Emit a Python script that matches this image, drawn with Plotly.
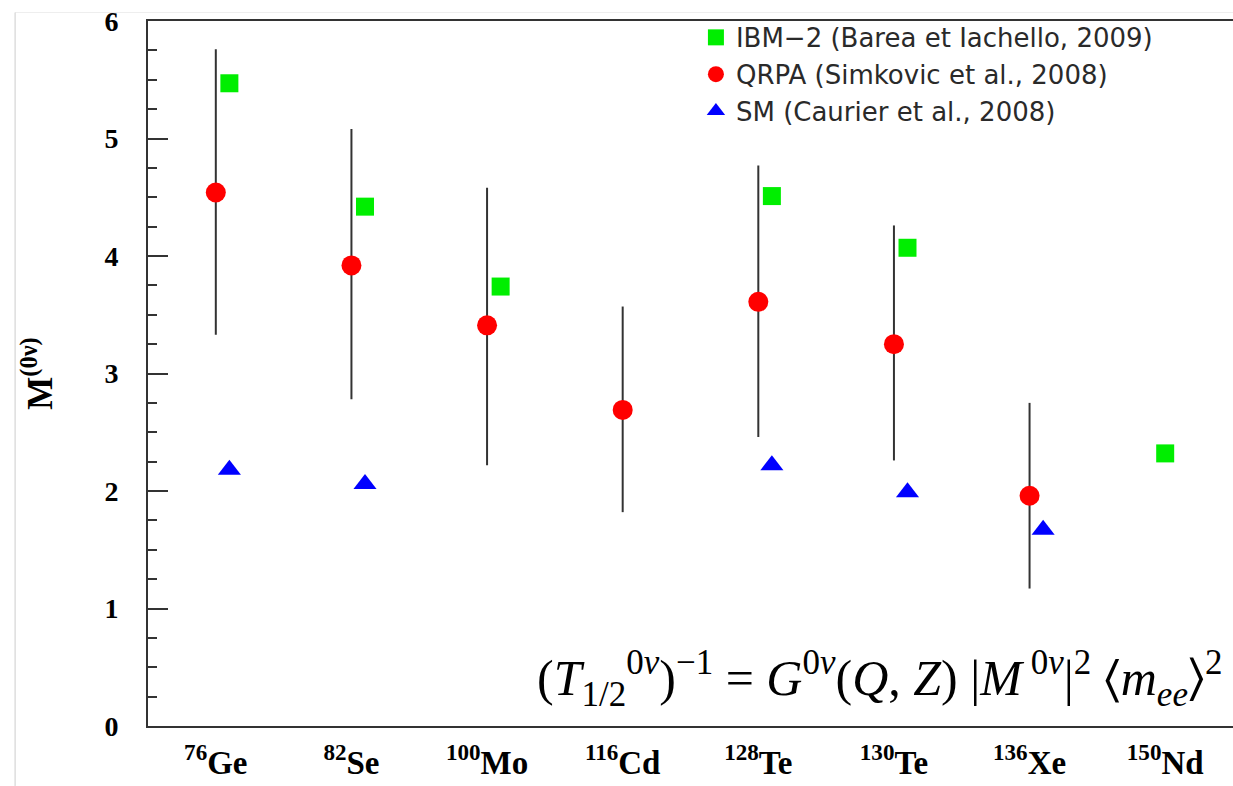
import plotly.graph_objects as go

# ---- data ----
isotopes = ["<sup>76</sup>Ge", "<sup>82</sup>Se", "<sup>100</sup>Mo", "<sup>116</sup>Cd",
            "<sup>128</sup>Te", "<sup>130</sup>Te", "<sup>136</sup>Xe", "<sup>150</sup>Nd"]

ibm2_idx = [0, 1, 2, 4, 5, 7]
ibm2_val = [5.47, 4.42, 3.74, 4.51, 4.07, 2.32]

qrpa_idx = [0, 1, 2, 3, 4, 5, 6]
qrpa_val = [4.54, 3.92, 3.41, 2.69, 3.61, 3.25, 1.96]
qrpa_low = [3.33, 2.78, 2.22, 1.82, 2.46, 2.26, 1.17]
qrpa_high = [5.76, 5.08, 4.58, 3.57, 4.77, 4.26, 2.75]

sm_idx = [0, 1, 4, 5, 6]
sm_val = [2.18, 2.06, 2.22, 1.99, 1.67]

y_ticks = [0, 1, 2, 3, 4, 5, 6]

# ---- styling / positions ----
shift = 0.1
ibm_shift = [shift if i != 7 else 0.0 for i in ibm2_idx]
centers = [i + 0.5 for i in range(len(isotopes))]

fig = go.Figure()

fig.add_trace(go.Scatter(
    x=[i + 0.5 + s for i, s in zip(ibm2_idx, ibm_shift)], y=ibm2_val,
    mode="markers", name="IBM\u22122 (Barea et Iachello, 2009)",
    marker=dict(symbol="square", size=18, color="#00ee00"),
))
fig.add_trace(go.Scatter(
    x=[i + 0.5 for i in qrpa_idx], y=qrpa_val,
    mode="markers", name="QRPA (Simkovic et al., 2008)",
    marker=dict(symbol="circle", size=20, color="#ff0000"),
    error_y=dict(type="data", symmetric=False,
                 array=[h - v for h, v in zip(qrpa_high, qrpa_val)],
                 arrayminus=[v - l for l, v in zip(qrpa_low, qrpa_val)],
                 width=0, thickness=2, color="#333333"),
))
fig.add_trace(go.Scatter(
    x=[i + 0.5 + shift for i in sm_idx], y=sm_val,
    mode="markers", name="SM (Caurier et al., 2008)",
    marker=dict(symbol="triangle-up", size=20, color="#0000ff"),
))

serif = "Liberation Serif, Times New Roman, serif"

fig.update_layout(
    width=1233, height=786,
    margin=dict(l=148, r=0, t=21, b=60),
    plot_bgcolor="white", paper_bgcolor="white",
    showlegend=True,
    legend=dict(x=0.505, y=1.01, xanchor="left", yanchor="top",
                bgcolor="rgba(255,255,255,0)", borderwidth=0,
                font=dict(family="DejaVu Sans", size=26, color="#2a2a2a"),
                tracegroupgap=0),
    xaxis=dict(range=[0, 8], tickmode="array", tickvals=centers,
               ticktext=["<b>" + t + "</b>" for t in isotopes],
               tickfont=dict(family=serif, size=33, color="black"),
               ticklabelstandoff=6, automargin=False,
               showline=True, mirror=True, linecolor="#333333", linewidth=2,
               ticks="", showgrid=False, zeroline=False),
    yaxis=dict(range=[0, 6], tickmode="array", tickvals=y_ticks,
               ticktext=["<b>%d</b>" % v for v in y_ticks],
               tickfont=dict(family=serif, size=28, color="black"),
               ticks="inside", ticklen=20, tickwidth=2, tickcolor="#333333",
               minor=dict(ticks="inside", ticklen=9, tickwidth=2, tickcolor="#333333",
                          dtick=0.25, showgrid=False),
               ticklabelstandoff=22, automargin=False,
               showline=True, mirror=False, linecolor="#333333", linewidth=2,
               showgrid=False, zeroline=False),
    annotations=[
        dict(text="<b>M<sup>(0\u03bd)</sup></b>", textangle=-90,
             xref="paper", yref="paper", x=-0.102, y=0.5, xanchor="center", yanchor="middle",
             showarrow=False, font=dict(family=serif, size=35, color="black")),
        dict(text="(<i>T</i><sub>1/2</sub><sup>0<i>\u03bd</i></sup>)<sup>\u22121</sup> = "
                  "<i>G</i><sup>0<i>\u03bd</i></sup>(<i>Q</i>, <i>Z</i>) "
                  "|<i>M</i><sup> 0<i>\u03bd</i></sup>|<sup>2</sup> "
                  "\u2329<i>m</i><sub><i>ee</i></sub>\u232a<sup>2</sup>",
             xref="paper", yref="paper", x=0.992, y=0.068, xanchor="right", yanchor="middle",
             showarrow=False, font=dict(family=serif, size=50, color="black")),
    ],
    shapes=[
        dict(type="line", xref="paper", yref="paper", x0=-0.1225, x1=1.0, y0=1.012, y1=1.012,
             line=dict(color="#eeeeee", width=1)),
        dict(type="line", xref="paper", yref="paper", x0=-0.1225, x1=-0.1225, y0=-0.085, y1=1.012,
             line=dict(color="#cccccc", width=1)),
    ],
)

fig.write_html("out.html")
